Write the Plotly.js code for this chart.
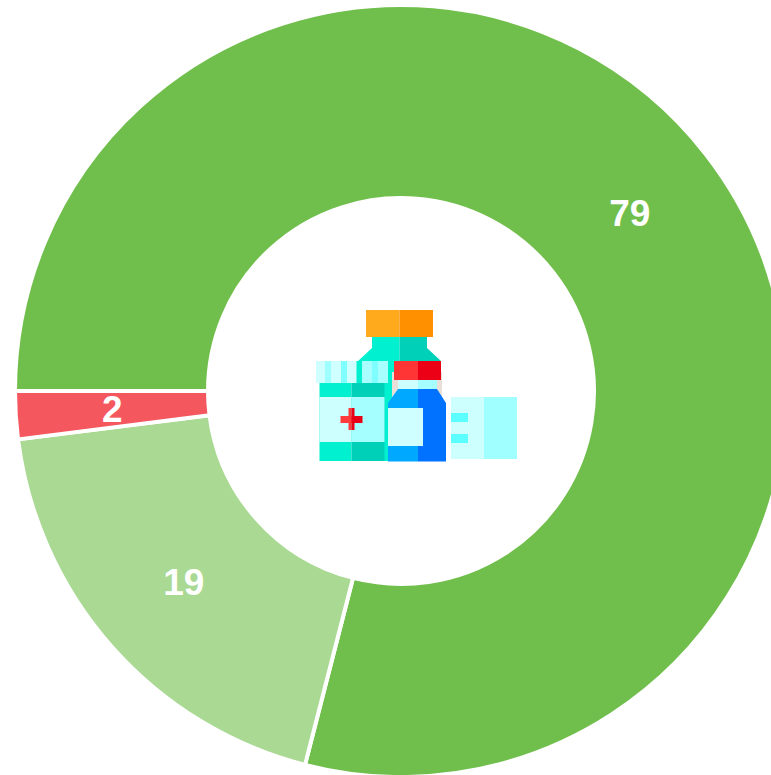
<!DOCTYPE html>
<html>
<head>
<meta charset="utf-8">
<script src="https://cdn.plot.ly/plotly-3.0.1.min.js"></script>
<style>
html,body{margin:0;padding:0;background:#fff;overflow:hidden;width:771px;height:775px}
#chart{width:788px;height:778px}
</style>
</head>
<body>
<div id="chart"></div>
<script>
const categories = ["Green", "Light green", "Red"];
const values = [79, 19, 2];
const sliceColors = ["#70BF4C", "#AAD994", "#F4575E"];
const textPositions = ["inside", "inside", "none"];

const icon = `<svg xmlns="http://www.w3.org/2000/svg" viewBox="15 5 772 772" width="772" height="772">
<defs><filter id="b" x="0" y="0" width="1" height="1"><feGaussianBlur stdDeviation="0.45"/></filter></defs>
<g filter="url(#b)">
<rect x="366" y="310" width="33.5" height="27" fill="#FFA91F"/><rect x="399.5" y="310" width="33.5" height="27" fill="#FF9100"/>
<path d="M372 337H399.5V461H358V361L372 348Z" fill="#00F0D0"/>
<path d="M399.5 337H427V348L441 361V400H399.5Z" fill="#00D0B8"/>
<rect x="392" y="372" width="50" height="30" fill="#E8E0D8"/>
<rect x="316" y="361" width="72" height="22" fill="#CFFFFF"/>
<rect x="325" y="361" width="6" height="22" fill="#9FFFFF"/><rect x="341" y="361" width="6" height="22" fill="#7FFFFF"/>
<rect x="356.5" y="361" width="5.5" height="22" fill="#00F0D0"/><rect x="362" y="361" width="10" height="22" fill="#A8FFFF"/>
<rect x="372" y="361" width="6" height="22" fill="#7FFFFF"/><rect x="378" y="361" width="10" height="22" fill="#A8FFFF"/>
<rect x="319.5" y="383" width="32" height="78" fill="#00F0D0"/><rect x="351.5" y="383" width="33" height="78" fill="#00D0B8"/>
<rect x="319.5" y="397" width="32" height="45" fill="#CDFFFF"/><rect x="351.5" y="397" width="33" height="45" fill="#A6FFFF"/>
<rect x="340.5" y="416" width="11" height="7" fill="#FF3B3B"/><rect x="351.5" y="416" width="11" height="7" fill="#E80014"/>
<rect x="348.5" y="408" width="3" height="22" fill="#FF3B3B"/><rect x="351.5" y="408" width="3" height="22" fill="#E80014"/>
<rect x="394" y="361" width="24" height="19" fill="#FF3535"/><rect x="418" y="361" width="23" height="19" fill="#EB0014"/>
<rect x="398" y="380" width="20" height="10" fill="#CDFFFF"/><rect x="418" y="380" width="19" height="10" fill="#A6FFFF"/>
<path d="M398 389H418V461.5H388V403Z" fill="#00A8FF"/><path d="M418 389H437L446 403V461.5H418Z" fill="#0072FF"/>
<rect x="388" y="408" width="35" height="38" fill="#CFFFFF"/>
<rect x="451" y="397" width="33" height="62" fill="#CDFFFF"/><rect x="484" y="397" width="33" height="62" fill="#A0FFFF"/>
<rect x="451" y="413" width="17" height="9" fill="#5CFFFF"/><rect x="451" y="434" width="17" height="9" fill="#5CFFFF"/>
</g>
</svg>`;

const holeFraction = 0.5;
const startAngle = 270;
const total = values.reduce((a, b) => a + b, 0);
const before = values[0] + values[1];
const midAngle = (startAngle + (before + values[2] / 2) / total * 360) * Math.PI / 180;
const ringRadius = (1 + holeFraction) / 2 * 0.5 * 1.0;
const textFont = {family: "Liberation Sans, Arial, sans-serif", size: 37, color: "#ffffff", weight: "bold"};

const data = [{
  type: "pie",
  labels: categories,
  values: values,
  sort: false,
  direction: "clockwise",
  rotation: startAngle,
  hole: holeFraction,
  marker: {colors: sliceColors, line: {color: "#ffffff", width: 4}},
  textinfo: "value",
  textposition: textPositions,
  insidetextorientation: "horizontal",
  textfont: textFont,
  showlegend: false,
  hoverinfo: "label+value"
}];

const layout = {
  width: 788,
  height: 778,
  margin: {l: 15, t: 5, r: 1, b: 1, pad: 0},
  paper_bgcolor: "#ffffff",
  showlegend: false,
  uniformtext: {mode: "show", minsize: 36},
  annotations: [{
    text: "<b>" + values[2] + "</b>",
    xref: "paper", yref: "paper",
    x: 0.5 + ringRadius * Math.sin(midAngle),
    y: 0.5 + ringRadius * Math.cos(midAngle),
    xanchor: "center", yanchor: "middle",
    showarrow: false,
    font: {family: textFont.family, size: textFont.size, color: textFont.color}
  }],
  images: [{
    source: "data:image/svg+xml;charset=utf-8," + encodeURIComponent(icon),
    xref: "paper", yref: "paper",
    x: 0, y: 1, sizex: 1, sizey: 1,
    xanchor: "left", yanchor: "top",
    sizing: "stretch", layer: "above"
  }]
};

Plotly.newPlot("chart", data, layout, {displayModeBar: false, responsive: false, staticPlot: true});
</script>
</body>
</html>
